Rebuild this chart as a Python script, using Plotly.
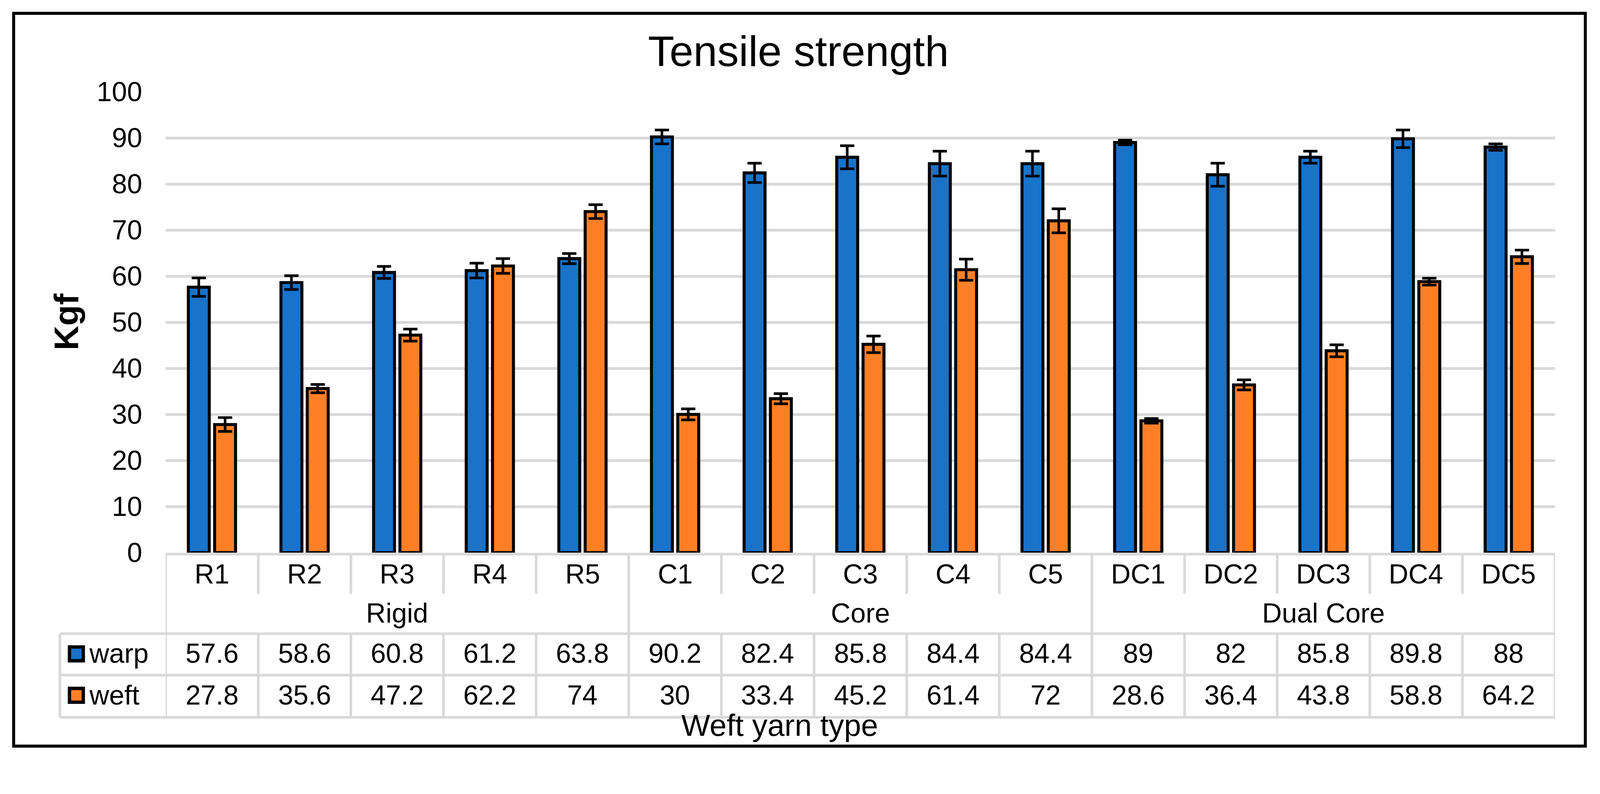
import plotly.graph_objects as go

# ---------------- data ----------------
categories = ["R1", "R2", "R3", "R4", "R5",
              "C1", "C2", "C3", "C4", "C5",
              "DC1", "DC2", "DC3", "DC4", "DC5"]
groups = ["Rigid", "Core", "Dual Core"]
group_sizes = [5, 5, 5]
series_names = ["warp", "weft"]
warp = [57.6, 58.6, 60.8, 61.2, 63.8, 90.2, 82.4, 85.8, 84.4, 84.4, 89, 82, 85.8, 89.8, 88]
warp_err = [2.0, 1.5, 1.3, 1.6, 1.1, 1.5, 2.1, 2.5, 2.7, 2.7, 0.5, 2.5, 1.3, 1.9, 0.7]
weft = [27.8, 35.6, 47.2, 62.2, 74, 30, 33.4, 45.2, 61.4, 72, 28.6, 36.4, 43.8, 58.8, 64.2]
weft_err = [1.5, 0.9, 1.3, 1.6, 1.5, 1.2, 1.1, 1.8, 2.3, 2.6, 0.5, 1.1, 1.3, 0.75, 1.45]
y_ticks = [0, 10, 20, 30, 40, 50, 60, 70, 80, 90, 100]

title_text = "Tensile strength"
y_title = "Kgf"
x_title = "Weft yarn type"

colors = ["#1873C9", "#FF7F27"]
FONT = "Liberation Sans, Arial, sans-serif"

# ---------------- geometry (reference pixels, scaled to the page) ----------------
S = 4096 / 4284          # page is rendered into a 4096-px-wide viewport
W, H = 4284, 2033
L, R, T, B = 443, 4164, 246, 1480
PW, PH = R - L, B - T


def sc(v):
    return v * S


def pxx(px):
    return (px - L) / PW


def pyy(py):
    return (B - py) / PH


GRID = "#d9d9d9"
GW = sc(7)

fig = go.Figure()
for name, vals, errs, col in zip(series_names, [warp, weft], [warp_err, weft_err], colors):
    fig.add_trace(go.Bar(
        x=categories, y=vals, name=name,
        marker=dict(color=col, line=dict(color="black", width=sc(8))),
        error_y=dict(type="data", array=errs, visible=True,
                     color="black", thickness=sc(7), width=sc(19)),
        showlegend=False,
    ))

shapes = []
ann = []
n = len(categories)

# table top line (axis line)
shapes.append(dict(type="line", xref="x", yref="paper", x0=-0.5, x1=n - 0.5,
                   y0=pyy(1484), y1=pyy(1484), line=dict(color=GRID, width=GW), layer="above"))
# horizontal row lines
for py in [1697, 1808, 1921]:
    shapes.append(dict(type="line", xref="paper", yref="paper", x0=pxx(160), x1=1.0,
                       y0=pyy(py), y1=pyy(py), line=dict(color=GRID, width=GW)))
# legend column left edge
shapes.append(dict(type="line", xref="paper", yref="paper", x0=pxx(160), x1=pxx(160),
                   y0=pyy(1697), y1=pyy(1921), line=dict(color=GRID, width=GW)))
# vertical separators
group_bounds = set()
acc = 0
for s in group_sizes:
    group_bounds.add(acc - 0.5)
    acc += s
    group_bounds.add(acc - 0.5)
for k in range(n + 1):
    xv = k - 0.5
    if xv in group_bounds:
        shapes.append(dict(type="line", xref="x", yref="paper", x0=xv, x1=xv,
                           y0=pyy(1484), y1=pyy(1921), line=dict(color=GRID, width=GW)))
    else:
        shapes.append(dict(type="line", xref="x", yref="paper", x0=xv, x1=xv,
                           y0=pyy(1484), y1=pyy(1590), line=dict(color=GRID, width=GW)))
        shapes.append(dict(type="line", xref="x", yref="paper", x0=xv, x1=xv,
                           y0=pyy(1697), y1=pyy(1921), line=dict(color=GRID, width=GW)))

TF = sc(73)
# category labels
for c in categories:
    ann.append(dict(x=c, y=pyy(1537), xref="x", yref="paper", text=c, showarrow=False,
                    font=dict(size=TF, color="black", family=FONT), xanchor="center", yanchor="middle"))
# group labels
acc = 0
for g, s in zip(groups, group_sizes):
    ann.append(dict(x=acc + (s - 1) / 2, y=pyy(1642), xref="x", yref="paper", text=g, showarrow=False,
                    font=dict(size=TF, color="black", family=FONT), xanchor="center", yanchor="middle"))
    acc += s
# value rows + legend keys
row_y = [1750, 1862]
key_y = [(1732.5, 1769.5), (1843.5, 1880.5)]
for name, vals, col, ry, (ky0, ky1) in zip(series_names, [warp, weft], colors, row_y, key_y):
    for c, v in zip(categories, vals):
        ann.append(dict(x=c, y=pyy(ry), xref="x", yref="paper", text=f"{v:g}", showarrow=False,
                        font=dict(size=TF, color="black", family=FONT), xanchor="center", yanchor="middle"))
    shapes.append(dict(type="rect", xref="paper", yref="paper", x0=pxx(185.5), x1=pxx(222.5),
                       y0=pyy(ky1), y1=pyy(ky0), fillcolor=col, line=dict(color="black", width=sc(9))))
    ann.append(dict(x=pxx(236), y=pyy(ry), xref="paper", yref="paper", text=name, showarrow=False,
                    font=dict(size=TF, color="black", family=FONT), xanchor="left", yanchor="middle"))

# titles
ann.append(dict(x=pxx(2138), y=pyy(137), xref="paper", yref="paper", text=title_text, showarrow=False,
                font=dict(size=sc(115), color="black", family=FONT), xanchor="center", yanchor="middle"))
ann.append(dict(x=pxx(176), y=pyy(862), xref="paper", yref="paper", text=f"<b>{y_title}</b>",
                showarrow=False, textangle=-90,
                font=dict(size=sc(91), color="black", family=FONT), xanchor="center", yanchor="middle"))
ann.append(dict(x=pxx(2088), y=pyy(1942), xref="paper", yref="paper", text=x_title, showarrow=False,
                font=dict(size=sc(82), color="black", family=FONT), xanchor="center", yanchor="middle"))

# outer border
shapes.append(dict(type="rect", xref="paper", yref="paper", x0=pxx(36), x1=pxx(4245),
                   y0=pyy(1998), y1=pyy(36), line=dict(color="black", width=sc(8)),
                   fillcolor="rgba(0,0,0,0)"))

fig.update_layout(
    width=round(W * S), height=round(H * S), autosize=False,
    margin=dict(l=sc(L), r=sc(W - R), t=sc(T), b=sc(H - B), pad=0),
    paper_bgcolor="white", plot_bgcolor="white",
    barmode="group", bargap=0.432, bargroupgap=0.204,
    font=dict(family=FONT, color="black"),
    xaxis=dict(range=[-0.5, n - 0.5], showticklabels=False, showgrid=False,
               zeroline=False, showline=False, ticks=""),
    yaxis=dict(range=[0, 100], tickvals=y_ticks, ticktext=[str(t) for t in y_ticks],
               showgrid=True, gridcolor=GRID, gridwidth=GW, zeroline=False, showline=False,
               ticks="", ticklabelstandoff=int(round(sc(62))),
               tickfont=dict(size=TF, color="black", family=FONT)),
    shapes=shapes, annotations=ann,
)

fig.write_html("out.html", config={"displayModeBar": False})
with open("out.html", "r", encoding="utf-8") as f:
    html = f.read()
html = html.replace("<body>", '<body style="margin:0;padding:0;overflow:hidden">', 1)
with open("out.html", "w", encoding="utf-8") as f:
    f.write(html)
